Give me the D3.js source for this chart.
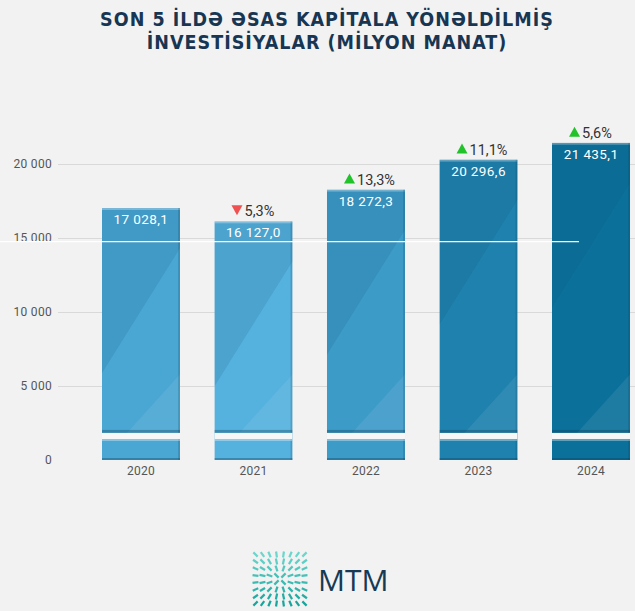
<!DOCTYPE html>
<html>
<head>
<meta charset="utf-8">
<script src="https://cdn.jsdelivr.net/npm/d3@7.9.0/dist/d3.min.js"></script>
<style>
  html, body { margin: 0; padding: 0; background: #f2f2f2; }
  svg { display: block; }
</style>
</head>
<body>
<div id="chart"></div>
<script>
// Chart data
const years = ["2020", "2021", "2022", "2023", "2024"];
const values = [17028.1, 16127.0, 18272.3, 20296.6, 21435.1];
const valueLabels = ["17 028,1", "16 127,0", "18 272,3", "20 296,6", "21 435,1"];
const changes = [null, -5.3, 13.3, 11.1, 5.6];
const changeLabels = ["", "5,3%", "13,3%", "11,1%", "5,6%"];
const yTicks = [0, 5000, 10000, 15000, 20000];
const barColors = ["#4aa6d3", "#55b1de", "#3d9bc8", "#1f82ae", "#0b719b"];
const titleLines = ["SON 5 İLDƏ ƏSAS KAPİTALA YÖNƏLDİLMİŞ", "İNVESTİSİYALAR (MİLYON MANAT)"];

const width = 635;
const height = 611;
const margin = { top: 130, right: 0, bottom: 151, left: 58 };

const svg = d3.select("#chart").append("svg")
  .attr("width", width)
  .attr("height", height);

svg.append("rect").attr("width", width).attr("height", height).attr("fill", "#f2f2f2");

// title
svg.append("g").selectAll("text")
  .data(titleLines)
  .join("text")
  .attr("x", 327)
  .attr("y", (d, i) => 26 + i * 23)
  .attr("text-anchor", "middle")
  .attr("font-family", "'DejaVu Sans Condensed', 'DejaVu Sans', sans-serif")
  .attr("font-weight", "bold")
  .attr("font-size", 19.5)
  .attr("letter-spacing", 1)
  .attr("fill", "#183652")
  .text((d) => d);

const x = d3.scaleBand()
  .domain(years)
  .range([85, 647])
  .paddingInner(0.305)
  .paddingOuter(0.15);

const y = d3.scaleLinear()
  .domain([0, 5000])
  .range([460, 386]);

// gridlines
svg.append("g")
  .attr("transform", `translate(${margin.left},0)`)
  .call(d3.axisLeft(y).tickValues(yTicks).tickSize(-(width - margin.left)).tickFormat(""))
  .call((g) => g.select(".domain").remove())
  .call((g) => g.selectAll("line").attr("stroke", "#d9d9d9").attr("stroke-width", 1.2))
  .call((g) => g.selectAll("line").filter((d) => d === 0).remove());

// y labels
svg.append("g")
  .attr("transform", `translate(52,0)`)
  .call(d3.axisLeft(y).tickValues(yTicks).tickSize(0).tickPadding(0)
    .tickFormat((d) => d === 0 ? "0" : d3.format(",")(d).replace(",", " ")))
  .call((g) => g.select(".domain").remove())
  .call((g) => g.selectAll("text")
    .attr("font-family", "Roboto, sans-serif")
    .attr("font-size", 12)
    .attr("letter-spacing", 0.3)
    .attr("fill", "#555"));

const defs = svg.append("defs");

const barData = years.map((yr, i) => ({
  year: yr, value: values[i], label: valueLabels[i],
  change: changes[i], changeLabel: changeLabels[i], color: barColors[i], i
}));

// break of the axis (in value units)
const breakHigh = 1830;
const breakLow = 1420;

barData.forEach((d) => {
  defs.append("clipPath").attr("id", "clip" + d.i)
    .append("rect")
    .attr("x", x(d.year)).attr("y", y(d.value))
    .attr("width", x.bandwidth()).attr("height", y(0) - y(d.value));
});

const bars = svg.append("g").selectAll("g")
  .data(barData)
  .join("g")
  .attr("clip-path", (d) => `url(#clip${d.i})`);

bars.append("rect")
  .attr("x", (d) => x(d.year))
  .attr("y", (d) => y(d.value))
  .attr("width", x.bandwidth())
  .attr("height", (d) => y(0) - y(d.value))
  .attr("fill", (d) => d.color);

// diagonal shading
bars.append("path")
  .attr("d", (d) => {
    const x0 = x(d.year), w = x.bandwidth(), top = y(d.value);
    return `M${x0},${top} L${x0 + w},${top} L${x0 + w},${top + 40} L${x0},${top + 40 + w * 1.6} Z`;
  })
  .attr("fill", "#0b4f73")
  .attr("opacity", 0.14);

bars.append("path")
  .attr("d", (d) => {
    const x0 = x(d.year), w = x.bandwidth(), b = y(breakHigh);
    return `M${x0 + 25},${b} L${x0 + w},${b - w * 0.75} L${x0 + w},${b} Z`;
  })
  .attr("fill", "#ffffff")
  .attr("opacity", 0.08);

// top highlight and edges
bars.append("rect")
  .attr("x", (d) => x(d.year))
  .attr("y", (d) => y(d.value))
  .attr("width", x.bandwidth())
  .attr("height", 2)
  .attr("fill", "#ffffff")
  .attr("opacity", 0.3);

bars.append("rect")
  .attr("x", (d) => x(d.year))
  .attr("y", y(breakHigh) - 3)
  .attr("width", x.bandwidth())
  .attr("height", 3)
  .attr("fill", "#0a3b55")
  .attr("opacity", 0.35);

bars.append("rect")
  .attr("x", (d) => x(d.year))
  .attr("y", y(0) - 2)
  .attr("width", x.bandwidth())
  .attr("height", 2)
  .attr("fill", "#0a3b55")
  .attr("opacity", 0.35);

bars.append("rect")
  .attr("x", (d) => x(d.year) + x.bandwidth() - 2)
  .attr("y", (d) => y(d.value))
  .attr("width", 2)
  .attr("height", (d) => y(0) - y(d.value))
  .attr("fill", "#0a3b55")
  .attr("opacity", 0.2);

// white gap for the axis break
bars.append("rect")
  .attr("x", (d) => x(d.year))
  .attr("y", y(breakHigh))
  .attr("width", x.bandwidth())
  .attr("height", y(breakLow) - y(breakHigh))
  .attr("fill", "#f7f7f7");

bars.append("rect")
  .attr("x", (d) => x(d.year))
  .attr("y", y(breakLow))
  .attr("width", x.bandwidth())
  .attr("height", 2)
  .attr("fill", "#ffffff")
  .attr("opacity", 0.35);

// value labels
svg.append("g").selectAll("text")
  .data(barData)
  .join("text")
  .attr("x", (d) => x(d.year) + x.bandwidth() / 2)
  .attr("y", (d) => y(d.value) + 16)
  .attr("text-anchor", "middle")
  .attr("font-family", "Roboto, sans-serif")
  .attr("font-size", 13.5)
  .attr("fill", "#ffffff")
  .attr("letter-spacing", 0.4)
  .text((d) => d.label);

// change labels
const ch = svg.append("g").selectAll("g")
  .data(barData.filter((d) => d.change !== null))
  .join("g")
  .attr("transform", (d) => `translate(${x(d.year) + x.bandwidth() / 2},${y(d.value) - 5})`);

ch.append("path")
  .attr("d", (d) => d.change < 0
    ? "M-22,-11 L-11,-11 L-16.5,-1 Z"
    : "M-22,-1 L-11,-1 L-16.5,-11 Z")
  .attr("fill", (d) => d.change < 0 ? "#f05050" : "#22c22a");

ch.append("text")
  .attr("x", -9)
  .attr("font-family", "Roboto, sans-serif")
  .attr("font-size", 14.5)
  .attr("fill", "#333")
  .text((d) => d.changeLabel);

// x labels
svg.append("g")
  .attr("transform", `translate(0,462)`)
  .call(d3.axisBottom(x).tickSize(0).tickPadding(4))
  .call((g) => g.select(".domain").remove())
  .call((g) => g.selectAll("text")
    .attr("font-family", "Roboto, sans-serif")
    .attr("font-size", 12)
    .attr("letter-spacing", 0.3)
    .attr("fill", "#555"));

// stray white line
svg.append("line")
  .attr("x1", 0).attr("x2", 579)
  .attr("y1", y(14750)).attr("y2", y(14750))
  .attr("stroke", "#ffffff").attr("stroke-width", 1.2);

// logo
const logo = svg.append("g").attr("transform", "translate(280,579)");
const n = 8;
const cells = d3.range(n * n).map((k) => ({ c: k % n, r: Math.floor(k / n) }));
logo.selectAll("line")
  .data(cells)
  .join("line")
  .each(function (d) {
    const cx = (d.c - (n - 1) / 2) * 7;
    const cy = (d.r - (n - 1) / 2) * 7;
    const a = Math.atan2(cy, cx);
    const len = 3;
    d3.select(this)
      .attr("x1", cx - Math.cos(a) * len).attr("y1", cy - Math.sin(a) * len)
      .attr("x2", cx + Math.cos(a) * len).attr("y2", cy + Math.sin(a) * len);
  })
  .attr("stroke", (d) => d3.interpolateRgb("#6ad6cc", "#17a59c")(d.r / (n - 1)))
  .attr("stroke-width", 2.2);

svg.append("text")
  .attr("x", 318)
  .attr("y", 591)
  .attr("font-family", "'Open Sans', sans-serif")
  .attr("font-size", 30)
  .attr("fill", "#163a55")
  .text("MTM");
</script>
</body>
</html>
